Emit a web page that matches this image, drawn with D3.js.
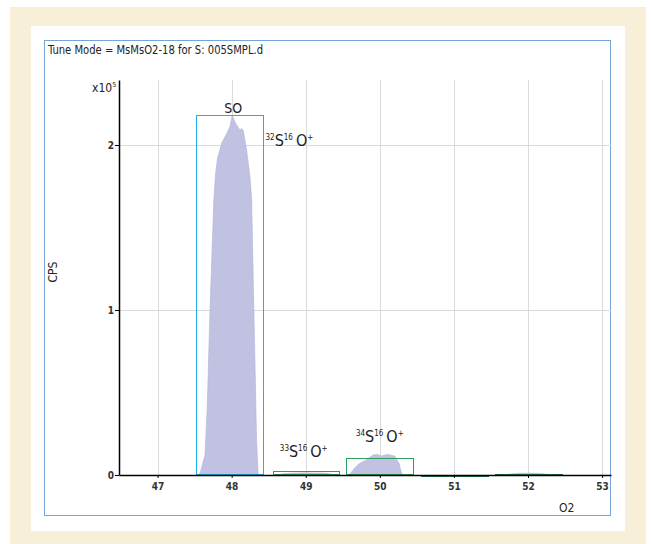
<!doctype html>
<html>
<head>
<meta charset="utf-8">
<script src="https://d3js.org/d3.v7.min.js"></script>
<style>
  body { margin: 0; background: #fff; }
  svg { display: block; }
  text { font-family: "Liberation Sans Narrow", "DejaVu Sans Condensed", "Roboto", sans-serif; }
  .tick-lbl { font-size: 10px; fill: #333; font-weight: bold; }
</style>
</head>
<body>
<svg id="chart" width="651" height="544"></svg>
<script>
// ---- data, intensity in units of 1e5 CPS ----
var xTicks = [47, 48, 49, 50, 51, 52, 53];
var yTicks = [0, 1, 2];

// measurement windows per nominal mass
var winMass = [48, 49, 50, 51, 52];
var winLo   = [47.52, 48.56, 49.55, 50.56, 51.56];
var winHi   = [48.43, 49.45, 50.46, 51.46, 52.46];
var winTop  = [2.18, 0.022, 0.101, 0.003, 0.004];
var winColor = ["#1fb0e6", "#2f9a62", "#2f9a62", "#1f6e45", "#1f6e45"];

// profile of the 32S16O+ peak
var p48m = [47.56, 47.58, 47.64, 47.67, 47.708, 47.76, 47.784, 47.81, 47.865, 47.933, 47.977, 48.008,
            48.044, 48.112, 48.13, 48.156, 48.202, 48.247, 48.27, 48.30, 48.337, 48.358];
var p48i = [0, 0.02, 0.12, 0.4, 1.0, 1.67, 1.83, 1.92, 2.01, 2.07, 2.11, 2.18,
            2.14, 2.09, 2.10, 2.09, 1.97, 1.81, 1.67, 1.0, 0.21, 0];
// 33S16O+
var p49m = [48.62, 48.7, 48.8, 48.9, 49.0, 49.1, 49.2, 49.3, 49.4];
var p49i = [0, 0.008, 0.011, 0.012, 0.013, 0.012, 0.012, 0.009, 0];
// 34S16O+
var p50m = [49.581, 49.621, 49.675, 49.729, 49.81, 49.908, 49.962, 50.022, 50.102, 50.2, 50.259, 50.282, 50.305];
var p50i = [0, 0.02, 0.05, 0.071, 0.09, 0.121, 0.125, 0.115, 0.125, 0.115, 0.071, 0.03, 0];
// mass 52
var p52m = [51.65, 51.75, 51.85, 51.95, 52.05, 52.15, 52.25, 52.35];
var p52i = [0, 0.005, 0.009, 0.011, 0.011, 0.009, 0.005, 0];

var svg = d3.select("#chart");

// page frame
svg.append("rect").attr("x", 10).attr("y", 7).attr("width", 636).attr("height", 537).attr("fill", "#f7efd8");
svg.append("rect").attr("x", 31).attr("y", 26).attr("width", 594).attr("height", 505).attr("fill", "#fff");
svg.append("rect").attr("x", 44.5).attr("y", 40.5).attr("width", 566).attr("height", 475)
  .attr("fill", "none").attr("stroke", "#76a3da").attr("stroke-width", 1);

svg.append("text").attr("x", 48).attr("y", 54).style("font-size", "12px").attr("fill", "#222")
  .attr("textLength", 215).attr("lengthAdjust", "spacingAndGlyphs")
  .text("Tune Mode = MsMsO2-18 for S: 005SMPL.d");

var x = d3.scaleLinear().domain([46.48, 53.12]).range([119, 611]);
var y = d3.scaleLinear().domain([0, 2.394]).range([475, 80]);

// grid
svg.append("g").selectAll("line").data(xTicks).join("line")
  .attr("x1", d => Math.round(x(d)) + 0.5).attr("x2", d => Math.round(x(d)) + 0.5)
  .attr("y1", y(2.394)).attr("y2", y(0))
  .attr("stroke", "#dadada");
svg.append("g").selectAll("line").data(yTicks.slice(1)).join("line")
  .attr("x1", x.range()[0]).attr("x2", x.range()[1])
  .attr("y1", d => Math.round(y(d)) + 0.5).attr("y2", d => Math.round(y(d)) + 0.5)
  .attr("stroke", "#dadada");

// peaks
var area = d3.area().x(d => x(d[0])).y0(y(0)).y1(d => y(d[1]));
[[p48m, p48i], [p49m, p49i], [p50m, p50i], [p52m, p52i]].forEach(function(p) {
  svg.append("path").datum(d3.zip(p[0], p[1])).attr("d", area)
    .attr("fill", "#c1c2e1").attr("stroke", "#b0b2d8").attr("stroke-width", 0.6);
});

// windows
svg.append("g").selectAll("rect").data(winMass).join("rect")
  .attr("x", (d, i) => Math.round(x(winLo[i])) + 0.5)
  .attr("width", (d, i) => Math.round(x(winHi[i]) - x(winLo[i])))
  .attr("y", (d, i) => Math.round(y(winTop[i])) + 0.5)
  .attr("height", (d, i) => Math.max(1, Math.round(y(0) - y(winTop[i])) - 1))
  .attr("fill", "none").attr("stroke", (d, i) => winColor[i]).attr("stroke-width", 1);

// axes
var xAxis = svg.append("g").attr("transform", "translate(0," + y(0) + ")")
  .call(d3.axisBottom(x).tickValues(xTicks).tickSize(3).tickSizeOuter(0).tickFormat(d3.format("d")));
var yAxis = svg.append("g").attr("transform", "translate(" + x.range()[0] + ",0)")
  .call(d3.axisLeft(y).tickValues(yTicks).tickSize(4).tickSizeOuter(0).tickFormat(d3.format("d")));
[xAxis, yAxis].forEach(function(a) {
  a.select(".domain").attr("stroke", "#000").attr("stroke-width", 1.5);
  a.selectAll(".tick line").attr("stroke", "#000");
  a.selectAll(".tick text").attr("class", "tick-lbl").attr("font-family", null).attr("font-size", null);
});
xAxis.selectAll(".tick text").attr("dy", "0.9em");
yAxis.selectAll(".tick text").attr("x", -5);

// axis titles
var mult = svg.append("text").attr("x", 92).attr("y", 92).style("font-size", "12px").attr("fill", "#222");
mult.append("tspan").text("x10");
mult.append("tspan").attr("dy", -5).style("font-size", "7px").text("5");

svg.append("text").attr("transform", "translate(57,272) rotate(-90)").attr("text-anchor", "middle")
  .style("font-size", "12px").attr("fill", "#222").text("CPS");
svg.append("text").attr("x", 559).attr("y", 512).style("font-size", "12px").attr("fill", "#222").text("O2");

// peak labels
svg.append("text").attr("x", x(48.02)).attr("y", y(2.18) - 2).attr("text-anchor", "middle")
  .style("font-size", "14px").attr("fill", "#222").text("SO");

function ionLabel(iso, xm, ym, anchor) {
  var t = svg.append("text").attr("x", xm).attr("y", ym).attr("text-anchor", anchor || "start")
    .attr("fill", "#222");
  t.append("tspan").attr("dy", -6).style("font-size", "8px").text(iso);
  t.append("tspan").attr("dy", 6).style("font-size", "16px").text("S");
  t.append("tspan").attr("dy", -6).style("font-size", "8px").text("16");
  t.append("tspan").attr("dy", 6).attr("dx", 3).style("font-size", "16px").text("O");
  t.append("tspan").attr("dy", -6).style("font-size", "8px").text("+");
}
ionLabel("32", x(48.43) + 2, 146);
ionLabel("33", x(49) - 2, 457, "middle");
ionLabel("34", x(50), 442, "middle");
</script>
</body>
</html>
